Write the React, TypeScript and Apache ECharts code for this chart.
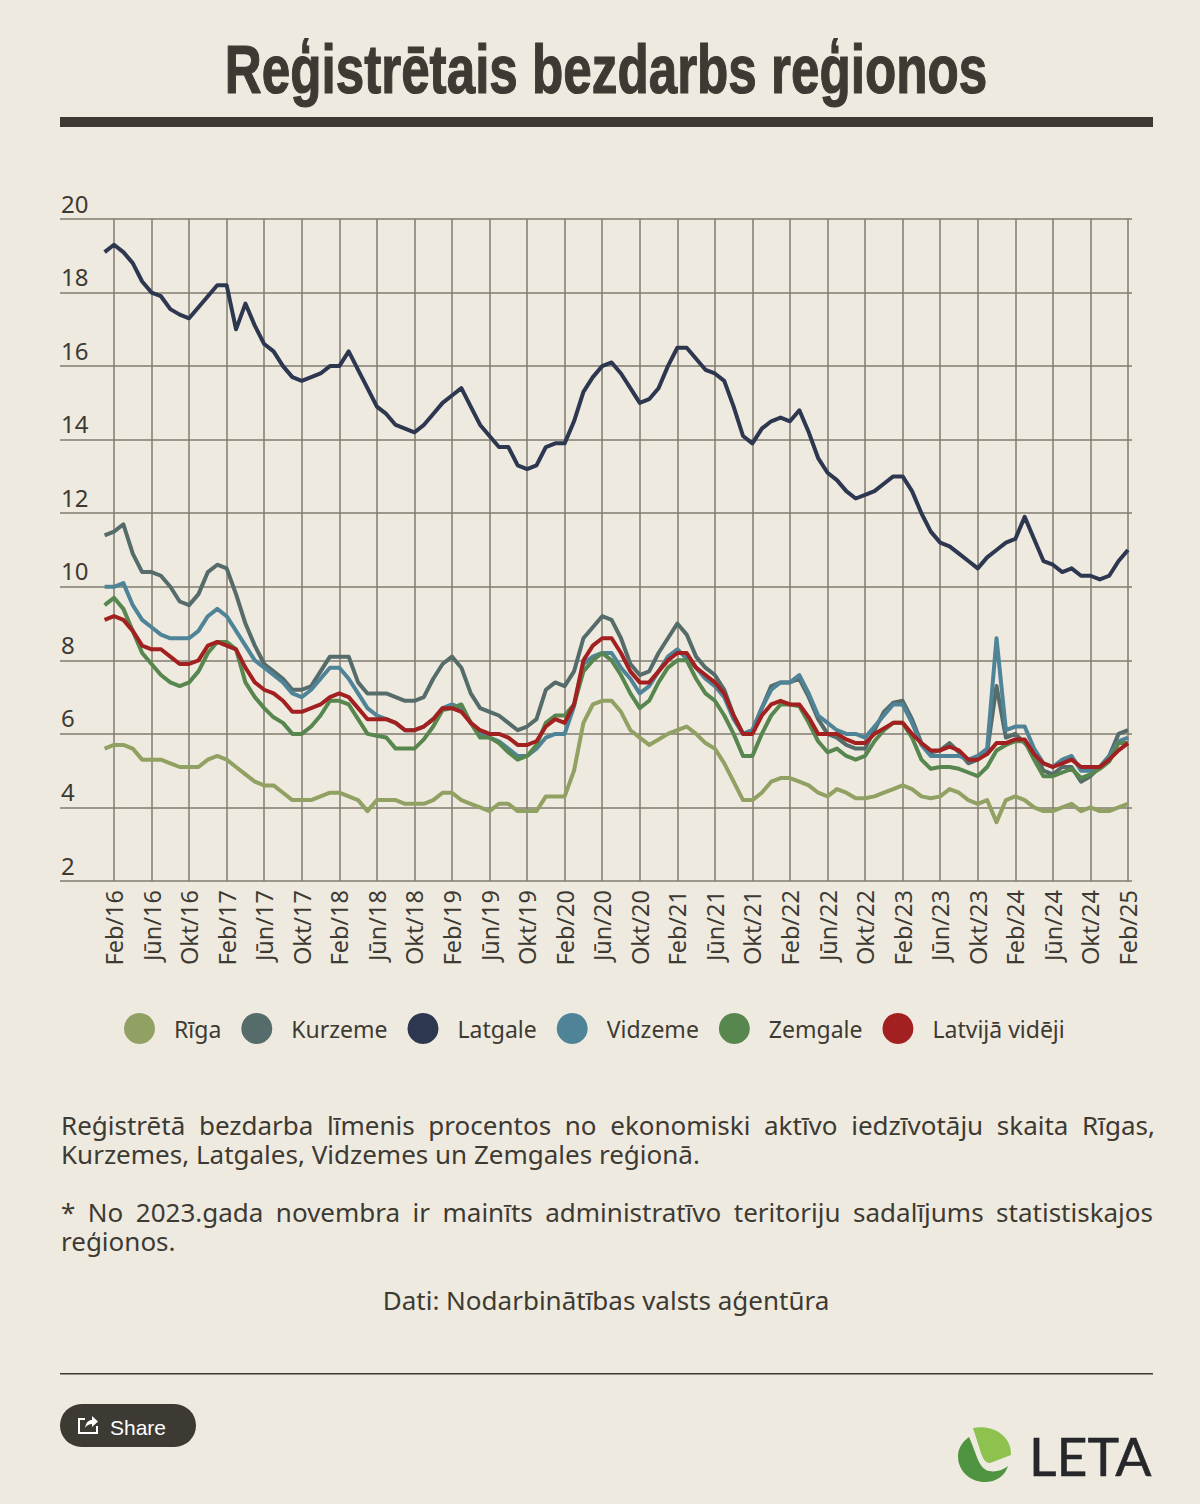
import React, { useEffect, useRef } from "react";
import * as echarts from "echarts";

const tickLabels = [
  "Feb/16","Jūn/16","Okt/16","Feb/17","Jūn/17","Okt/17","Feb/18","Jūn/18","Okt/18",
  "Feb/19","Jūn/19","Okt/19","Feb/20","Jūn/20","Okt/20","Feb/21","Jūn/21","Okt/21",
  "Feb/22","Jūn/22","Okt/22","Feb/23","Jūn/23","Okt/23","Feb/24","Jūn/24","Okt/24","Feb/25",
];
// month index of each tick label: Jan/16 is month 0
const tickMonths = [1,5,9,13,17,21,25,29,33,37,41,45,49,53,57,61,65,69,73,77,81,85,89,93,97,101,105,109];

const riga = [5.6,5.7,5.7,5.6,5.3,5.3,5.3,5.2,5.1,5.1,5.1,5.3,5.4,5.3,5.1,4.9,4.7,4.6,4.6,4.4,4.2,4.2,4.2,4.3,4.4,4.4,4.3,4.2,3.9,4.2,4.2,4.2,4.1,4.1,4.1,4.2,4.4,4.4,4.2,4.1,4.0,3.9,4.1,4.1,3.9,3.9,3.9,4.3,4.3,4.3,5.0,6.3,6.8,6.9,6.9,6.6,6.1,5.9,5.7,5.85,6.0,6.1,6.2,6.0,5.75,5.6,5.2,4.7,4.2,4.2,4.4,4.7,4.8,4.8,4.7,4.6,4.4,4.3,4.5,4.4,4.25,4.25,4.3,4.4,4.5,4.6,4.5,4.3,4.25,4.3,4.5,4.4,4.2,4.1,4.2,3.6,4.2,4.3,4.2,4.0,3.9,3.9,4.0,4.1,3.9,4.0,3.9,3.9,4.0,4.1];
const kurzeme = [11.4,11.5,11.7,10.9,10.4,10.4,10.3,10.0,9.6,9.5,9.8,10.4,10.6,10.5,9.8,9.0,8.4,7.9,7.7,7.5,7.2,7.2,7.3,7.7,8.1,8.1,8.1,7.4,7.1,7.1,7.1,7.0,6.9,6.9,7.0,7.5,7.9,8.1,7.8,7.1,6.7,6.6,6.5,6.3,6.1,6.2,6.4,7.2,7.4,7.3,7.7,8.6,8.9,9.2,9.1,8.6,7.9,7.6,7.7,8.2,8.6,9.0,8.7,8.1,7.8,7.6,7.2,6.5,6.0,6.1,6.7,7.3,7.4,7.4,7.5,7.0,6.4,6.0,5.9,5.7,5.6,5.6,6.1,6.6,6.85,6.9,6.4,5.75,5.5,5.55,5.75,5.5,5.2,5.3,5.5,7.3,5.9,6.0,5.75,5.5,5.0,4.9,5.1,5.1,4.7,4.85,5.1,5.4,6.0,6.1];
const latgale = [19.1,19.3,19.1,18.8,18.3,18.0,17.9,17.55,17.4,17.3,17.6,17.9,18.2,18.2,17.0,17.7,17.1,16.6,16.4,16.0,15.7,15.6,15.7,15.8,16.0,16.0,16.4,15.9,15.4,14.9,14.7,14.4,14.3,14.2,14.4,14.7,15.0,15.2,15.4,14.9,14.4,14.1,13.8,13.8,13.3,13.2,13.3,13.8,13.9,13.9,14.5,15.3,15.7,16.0,16.1,15.8,15.4,15.0,15.1,15.4,16.0,16.5,16.5,16.2,15.9,15.8,15.6,14.9,14.1,13.9,14.3,14.5,14.6,14.5,14.8,14.2,13.5,13.1,12.9,12.6,12.4,12.5,12.6,12.8,13.0,13.0,12.6,12.0,11.5,11.2,11.1,10.9,10.7,10.5,10.8,11.0,11.2,11.3,11.9,11.3,10.7,10.6,10.4,10.5,10.3,10.3,10.2,10.3,10.7,11.0];
const vidzeme = [10.0,10.0,10.1,9.5,9.1,8.9,8.7,8.6,8.6,8.6,8.8,9.2,9.4,9.2,8.8,8.4,8.0,7.8,7.6,7.4,7.1,7.0,7.2,7.5,7.8,7.8,7.5,7.1,6.7,6.5,6.4,6.3,6.1,6.1,6.2,6.4,6.7,6.8,6.7,6.3,6.0,5.9,5.8,5.6,5.4,5.4,5.6,5.9,6.0,6.0,6.75,7.9,8.1,8.2,8.2,7.8,7.5,7.1,7.3,7.7,8.1,8.3,8.05,7.8,7.5,7.3,7.0,6.4,6.0,6.1,6.7,7.2,7.4,7.4,7.6,7.1,6.5,6.3,6.1,6.0,6.0,5.9,6.2,6.5,6.8,6.8,6.3,5.7,5.4,5.4,5.4,5.4,5.3,5.4,5.6,8.6,6.1,6.2,6.2,5.6,5.2,5.1,5.3,5.4,5.0,5.0,5.1,5.4,5.8,5.9];
const zemgale = [9.5,9.7,9.4,8.8,8.2,7.9,7.6,7.4,7.3,7.4,7.7,8.2,8.5,8.5,8.3,7.4,7.0,6.7,6.45,6.3,6.0,6.0,6.2,6.5,6.9,6.9,6.8,6.4,6.0,5.95,5.9,5.6,5.6,5.6,5.85,6.2,6.65,6.7,6.8,6.3,5.9,5.9,5.75,5.5,5.3,5.4,5.7,6.3,6.5,6.5,6.8,7.7,8.0,8.2,8.0,7.6,7.1,6.7,6.9,7.4,7.8,8.0,8.0,7.5,7.1,6.9,6.5,6.0,5.4,5.4,6.0,6.5,6.8,6.8,6.75,6.3,5.8,5.5,5.6,5.4,5.3,5.4,5.8,6.1,6.3,6.3,5.9,5.3,5.05,5.1,5.1,5.05,4.95,4.85,5.1,5.55,5.7,5.8,5.8,5.3,4.85,4.85,4.95,5.05,4.8,4.9,5.05,5.25,5.75,5.75];
const latvija = [9.1,9.2,9.1,8.8,8.4,8.3,8.3,8.1,7.9,7.9,8.0,8.4,8.5,8.4,8.3,7.8,7.4,7.2,7.1,6.9,6.6,6.6,6.7,6.8,7.0,7.1,7.0,6.7,6.4,6.4,6.4,6.3,6.1,6.1,6.2,6.4,6.7,6.7,6.6,6.3,6.1,6.0,6.0,5.9,5.7,5.7,5.8,6.2,6.4,6.3,6.8,8.0,8.4,8.6,8.6,8.2,7.7,7.4,7.4,7.7,8.0,8.2,8.2,7.8,7.6,7.4,7.1,6.5,6.0,6.0,6.5,6.8,6.9,6.8,6.8,6.45,6.0,6.0,6.0,5.85,5.75,5.75,6.0,6.15,6.3,6.3,6.0,5.75,5.55,5.55,5.65,5.55,5.3,5.3,5.45,5.75,5.75,5.85,5.85,5.45,5.2,5.1,5.2,5.3,5.1,5.1,5.1,5.3,5.55,5.75];

const seriesNames = ["Rīga", "Kurzeme", "Latgale", "Vidzeme", "Zemgale", "Latvijā vidēji"];
const seriesColors = ["#91A063", "#566C6B", "#2D3750", "#4F8498", "#57864F", "#A32020"];
const seriesValues = [riga, kurzeme, latgale, vidzeme, zemgale, latvija];

const title = "Reģistrētais bezdarbs reģionos";
const noteLines = [
  "Reģistrētā bezdarba līmenis procentos no ekonomiski aktīvo iedzīvotāju skaita Rīgas,",
  "Kurzemes, Latgales, Vidzemes un Zemgales reģionā.",
  "* No 2023.gada novembra ir mainīts administratīvo teritoriju sadalījums statistiskajos",
  "reģionos.",
];
const sourceLine = "Dati: Nodarbinātības valsts aģentūra";
const shareLabel = "Share";
const logoLabel = "LETA";

const noteY = [1125, 1154, 1212, 1241];
const justifyWidth = [1094, 0, 1092, 0];
const INK = "#3D3A33";
const GRID = "#7F7B6E";
const BODY = "Noto Sans";
const TITLE_FONT = 'bold 68px "Liberation Sans"';

echarts.graphic.registerShape("shareBox", echarts.graphic.extendPath("M85 1419 H79 V1433 H97 V1426", {}));
echarts.graphic.registerShape("shareArrow", echarts.graphic.extendPath("M85 1428 C86 1422 89 1420 92 1420 V1416 L98 1421.5 L92 1427 V1424 C89 1424 87 1425 85 1428 Z", {}));
echarts.graphic.registerShape("leafDark", echarts.graphic.extendPath("M969 1437 C962 1442 958 1449 958 1456 C958 1472 971 1482 985 1482 C996 1482 1005 1476 1008 1466 C1002 1471 993 1473 986 1470 C978 1466 976 1452 969 1437 Z", {}));
echarts.graphic.registerShape("leafLight", echarts.graphic.extendPath("M973 1428 C990 1424 1012 1434 1011 1455 L990 1463 C984 1463 982 1456 980 1450 Z", {}));

export default function App() {
  const ref = useRef<HTMLDivElement>(null);
  useEffect(() => {
    const chart = echarts.init(ref.current!, null, { renderer: "svg" });
    const ctx = document.createElement("canvas").getContext("2d")!;
    ctx.font = TITLE_FONT;
    const titleScale = 763 / ctx.measureText(title).width;
    chart.setOption({
      animation: false,
      backgroundColor: "#EFEADF",
      grid: { left: 60, right: 68, top: 219, bottom: 623 },
      xAxis: {
        type: "value",
        min: -4.75,
        max: 109.43,
        axisLine: { show: false },
        axisTick: { show: false, customValues: tickMonths },
        splitLine: { show: true, lineStyle: { color: GRID, width: 1.5 } },
        axisLabel: {
          customValues: tickMonths,
          rotate: 90,
          margin: 9,
          fontFamily: BODY,
          fontSize: 23.5,
          color: INK,
          hideOverlap: false,
          formatter: (v: number) => tickLabels[tickMonths.indexOf(v)] ?? "",
        },
      },
      yAxis: {
        type: "value",
        min: 2,
        max: 20,
        interval: 2,
        axisLine: { show: false },
        axisTick: { show: false },
        splitLine: { show: true, lineStyle: { color: GRID, width: 1.5 } },
        axisLabel: {
          inside: true,
          margin: 1,
          verticalAlign: "bottom",
          padding: [0, 0, 4, 0],
          fontFamily: BODY,
          fontSize: 24,
          color: INK,
        },
      },
      legend: {
        left: 124,
        top: 1013,
        padding: 0,
        icon: "circle",
        itemWidth: 31,
        itemHeight: 31,
        itemGap: 20,
        selectedMode: false,
        data: seriesNames,
        textStyle: { fontFamily: BODY, fontSize: 23, color: INK, padding: [0, 0, 0, 14] },
      },
      series: seriesNames.map((name, s) => ({
        name,
        type: "line",
        symbol: "none",
        smooth: false,
        color: seriesColors[s],
        itemStyle: { color: seriesColors[s] },
        lineStyle: { color: seriesColors[s], width: 4, join: "round" },
        data: seriesValues[s].map((v, i) => [i, v]),
      })),
      graphic: [
        { type: "text", x: 606, y: 70, scaleX: titleScale, style: { text: title, fill: INK, stroke: INK, lineWidth: 1.2, font: TITLE_FONT, textAlign: "center", textVerticalAlign: "middle" } },
        { type: "rect", shape: { x: 60, y: 117, width: 1093, height: 10 }, style: { fill: INK } },
        ...noteLines.map((text, i) => ({
          type: "text",
          x: 61,
          y: noteY[i],
          style: { text, fill: INK, font: `26px "${BODY}"`, textAlign: "left", textVerticalAlign: "middle" },
        })),
        { type: "text", x: 606, y: 1300, style: { text: sourceLine, fill: INK, font: `26px "${BODY}"`, textAlign: "center", textVerticalAlign: "middle" } },
        { type: "rect", shape: { x: 60, y: 1373, width: 1093, height: 1.5 }, style: { fill: INK } },
        { type: "rect", shape: { x: 60, y: 1404, width: 136, height: 43, r: 21.5 }, style: { fill: INK } },
        { type: "shareBox", style: { fill: "none", stroke: "#FFFFFF", lineWidth: 2 } },
        { type: "shareArrow", style: { fill: "#FFFFFF" } },
        { type: "text", x: 110, y: 1427, style: { text: shareLabel, fill: "#FFFFFF", font: '21px "Liberation Sans"', textAlign: "left", textVerticalAlign: "middle" } },
        { type: "leafDark", style: { fill: "#4F9440" } },
        { type: "leafLight", style: { fill: "#8DC24F" } },
        { type: "text", x: 1029, y: 1456, scaleX: 1.03, style: { text: logoLabel, fill: "#25272A", stroke: "#25272A", lineWidth: 0.5, font: '52px "Lato"', textAlign: "left", textVerticalAlign: "middle" } },
      ],
    });
    // Justify the full-width note lines, as in the reference paragraph
    ref.current!.querySelectorAll("text").forEach((t) => {
      const i = noteLines.indexOf(t.textContent || "");
      if (i >= 0 && justifyWidth[i] > 0) {
        const gaps = noteLines[i].split(" ").length - 1;
        const extra = (justifyWidth[i] - (t as SVGTextElement).getComputedTextLength()) / gaps;
        t.setAttribute("word-spacing", String(extra));
      }
    });
    return () => chart.dispose();
  }, []);
  return <div ref={ref} style={{ position: "absolute", left: 0, top: 0, width: 1200, height: 1504 }} />;
}
